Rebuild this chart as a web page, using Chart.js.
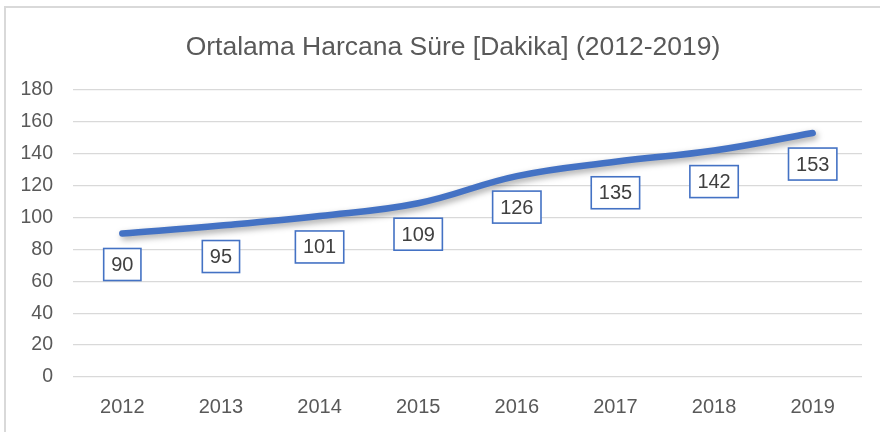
<!DOCTYPE html>
<html>
<head>
<meta charset="utf-8">
<script src="https://cdn.jsdelivr.net/npm/chart.js@4.4.0/dist/chart.umd.min.js"></script>
<style>
html,body{margin:0;padding:0;background:#fff;}
#wrap{position:relative;width:880px;height:432px;}
canvas{display:block;}
</style>
</head>
<body>
<div id="wrap"><canvas id="c" width="880" height="432"></canvas></div>
<script>
const titleText = 'Ortalama Harcana Süre [Dakika] (2012-2019)';
const categories = ['2012','2013','2014','2015','2016','2017','2018','2019'];
const values = [90, 95, 101, 109, 126, 135, 142, 153];
const yTicks = [0, 20, 40, 60, 80, 100, 120, 140, 160, 180];

const FONT = "'Liberation Sans', Arial, sans-serif";
const BLUE = '#4472C4';

const frame = {
  id: 'frame',
  beforeDraw(chart) {
    const ctx = chart.ctx;
    ctx.save();
    ctx.fillStyle = '#fff';
    ctx.fillRect(0, 0, chart.width, chart.height);
    ctx.strokeStyle = '#d9d9d9';
    ctx.lineWidth = 2;
    ctx.beginPath();
    ctx.moveTo(5, chart.height);
    ctx.lineTo(5, 7);
    ctx.lineTo(chart.width, 7);
    ctx.stroke();
    ctx.fillStyle = '#595959';
    ctx.font = '26.5px ' + FONT;
    ctx.textAlign = 'center';
    ctx.textBaseline = 'middle';
    ctx.fillText(titleText, 453, 48);
    ctx.restore();
  }
};

const shadow = {
  id: 'shadow',
  beforeDatasetsDraw(chart) {
    const ctx = chart.ctx;
    ctx.save();
    ctx.shadowColor = 'rgba(0,0,0,0.35)';
    ctx.shadowBlur = 6;
    ctx.shadowOffsetX = 2;
    ctx.shadowOffsetY = 3;
  },
  afterDatasetsDraw(chart) {
    chart.ctx.restore();
    const ctx = chart.ctx;
    const meta = chart.getDatasetMeta(0);
    ctx.save();
    ctx.font = '20px ' + FONT;
    ctx.textAlign = 'center';
    ctx.textBaseline = 'middle';
    meta.data.forEach((pt, i) => {
      const txt = String(values[i]);
      const w = ctx.measureText(txt).width + 15;
      const h = 32;
      const cx = pt.x, cy = pt.y + 31;
      ctx.fillStyle = '#fff';
      ctx.fillRect(cx - w/2, cy - h/2, w, h);
      ctx.strokeStyle = BLUE;
      ctx.lineWidth = 1.6;
      ctx.strokeRect(cx - w/2, cy - h/2, w, h);
      ctx.fillStyle = '#404040';
      ctx.fillText(txt, cx, cy + 1);
    });
    ctx.restore();
  }
};

new Chart(document.getElementById('c'), {
  type: 'line',
  data: {
    labels: categories,
    datasets: [{
      data: values,
      borderColor: BLUE,
      borderWidth: 6.5,
      borderCapStyle: 'round',
      borderJoinStyle: 'round',
      pointRadius: 0,
      pointHoverRadius: 0,
      tension: 0.4,
      fill: false
    }]
  },
  options: {
    responsive: false,
    animation: false,
    events: [],
    layout: { padding: { top: 90, right: 18, bottom: 0, left: 0 } },
    plugins: {
      legend: { display: false },
      tooltip: { enabled: false },
      title: { display: false }
    },
    scales: {
      x: {
        offset: true,
        grid: { display: false, drawTicks: false },
        border: { display: false },
        ticks: { color: '#595959', font: { family: FONT, size: 20 }, padding: 18, maxRotation: 0 },
        afterFit(s) { s.height = 55; }
      },
      y: {
        min: 0, max: 180,
        afterBuildTicks(s) { s.ticks = yTicks.map(v => ({ value: v })); },
        grid: { color: '#d9d9d9', lineWidth: 1.3, drawTicks: false },
        border: { display: false },
        ticks: { color: '#595959', font: { family: FONT, size: 19.5 }, padding: 20 },
        afterFit(s) { s.width = 73; }
      }
    }
  },
  plugins: [frame, shadow]
});
</script>
</body>
</html>
